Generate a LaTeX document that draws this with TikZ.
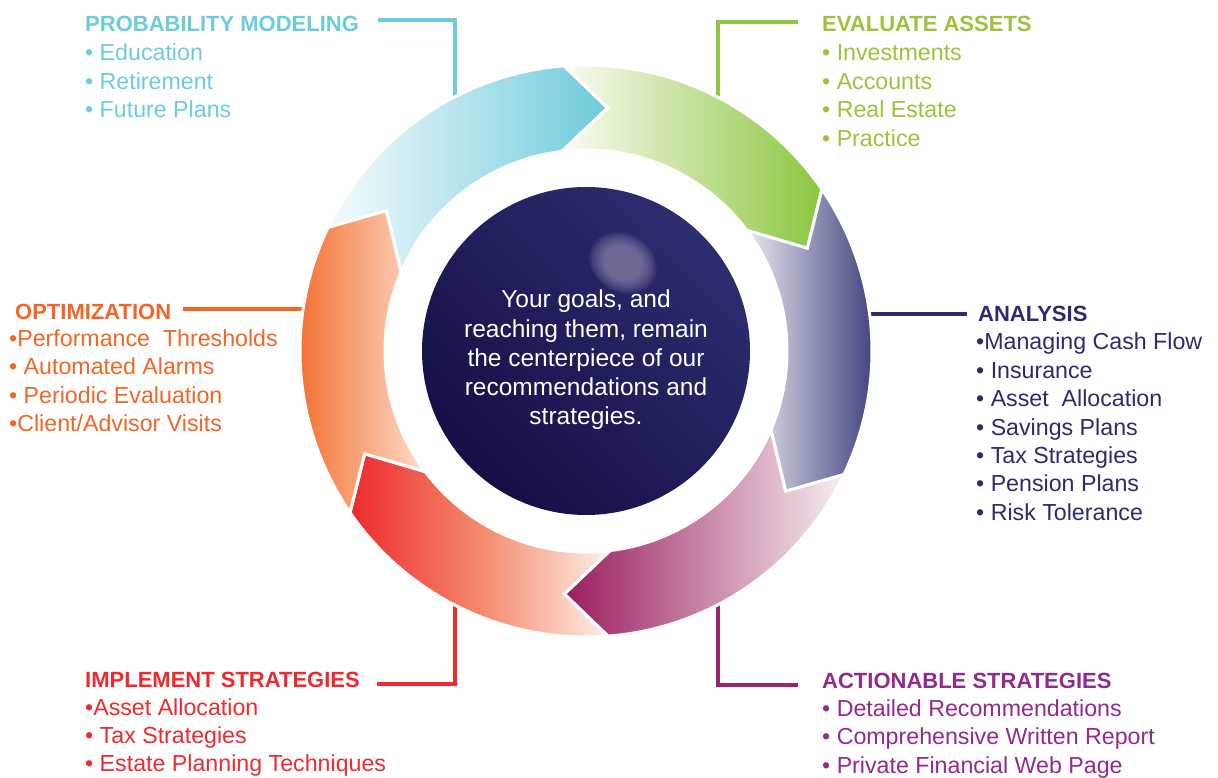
\documentclass[tikz,border=0pt]{standalone}
\usepackage{fontspec}
\setmainfont{Liberation Sans}
\usetikzlibrary{calc}

% palette
\definecolor{pmC}{HTML}{6CCBDD}
\definecolor{eaC}{HTML}{9CC23C}
\definecolor{eaL}{HTML}{8DC63F}
\definecolor{anC}{HTML}{2B2C6B}
\definecolor{asC}{HTML}{93298E}
\definecolor{asL}{HTML}{9A2467}
\definecolor{isC}{HTML}{EE2A2E}
\definecolor{opC}{HTML}{F26524}
% ring gradients
\definecolor{blueD}{HTML}{6ECBDC}
\definecolor{blueP}{HTML}{F6FBFC}
\definecolor{greenD}{HTML}{8CC63F}
\definecolor{greenP}{HTML}{FAFCF5}
\definecolor{navyD}{HTML}{2E3171}
\definecolor{navyP}{HTML}{E8E8F0}
\definecolor{purpD}{HTML}{9B1D5E}
\definecolor{purpP}{HTML}{F6EEF1}
\definecolor{redD}{HTML}{ED2A2E}
\definecolor{redM}{HTML}{F4896C}
\definecolor{redP}{HTML}{FEF0E8}
\definecolor{orgD}{HTML}{F26522}
\definecolor{orgP}{HTML}{FDDDCA}
% centre disc
\definecolor{discD}{HTML}{140F46}
\definecolor{discL}{HTML}{2D2D70}
\definecolor{glint}{HTML}{9A90B5}

% one curved arrow of the cycle: #1 tip angle, #2 shading options
\newcommand\ringarrow[2]{%
  \path[seg, #2]
    ({#1+69.5}:286) arc[start angle={#1+69.5}, end angle={#1+9.5}, radius=286]
    -- (#1:244) -- ({#1+12}:201)
    arc[start angle={#1+12}, end angle={#1+72}, radius=201]
    -- ({#1+60}:244) -- cycle;}

\begin{document}
\begin{tikzpicture}[x=1pt,y=1pt,
  heading/.style={anchor=base west, inner sep=0pt,
    font=\fontsize{22}{26}\selectfont\bfseries},
  item/.style={anchor=base west, inner sep=0pt,
    font=\fontsize{23.2}{28}\selectfont},
  conn/.style={line width=4pt},
  seg/.style={draw=white, line width=3pt, line join=miter}]
\useasboundingbox (0,0) rectangle (1218,777);

% ---------- connector lines (behind the ring) ----------
\coordinate (pmA) at (378,757);  \coordinate (pmB) at (455,667);
\coordinate (eaA) at (798,755);  \coordinate (eaB) at (718,667);
\coordinate (anA) at (967,463);  \coordinate (anB) at (860,463);
\coordinate (asA) at (798,92);   \coordinate (asB) at (718,185);
\coordinate (isA) at (377,93.5); \coordinate (isB) at (455,185);
\coordinate (opA) at (183,467.7);\coordinate (opB) at (315,467.7);
\draw[conn, pmC] (pmA) -| (pmB);
\draw[conn, eaL] (eaA) -| (eaB);
\draw[conn, anC] (anA) -- (anB);
\draw[conn, asL] (asA) -| (asB);
\draw[conn, isC] (isA) -| (isB);
\draw[conn, opC] (opA) -- (opB);

% ---------- the cycle of six arrows ----------
\begin{scope}[shift={(586,426)}]
  \ringarrow{84.9}{left color=blueP, right color=blueD}
  \ringarrow{24.9}{left color=greenP, right color=greenD}
  \ringarrow{-35.1}{left color=navyP, right color=navyD}
  \ringarrow{-95.1}{left color=purpD, right color=purpP}
  \ringarrow{-155.1}{left color=redD, right color=redP, middle color=redM}
  \ringarrow{144.9}{left color=orgD, right color=orgP}
  % centre disc
  \shade[top color=discL, bottom color=discD, shading angle=-45]
    (0,0) circle[radius=164];
\end{scope}
% soft glint on the disc
\begin{scope}[shift={(623,514)}, rotate=-30]
  \foreach \k in {0,...,7}
    \fill[glint, opacity=0.12] (0,0) ellipse[x radius={35-2.2*\k}, y radius={29-1.8*\k}];
\end{scope}
\node[align=center, text=white, inner sep=0pt,
  font=\fontsize{24.5}{29.3}\selectfont] (core) at (586,417)
  {Your goals, and\\reaching them, remain\\the centerpiece of our\\recommendations and\\strategies.};

% ---------- PROBABILITY MODELING ----------
\node[heading, text=pmC] (pmH) at (85,745) {PROBABILITY MODELING};
\foreach \t [count=\i] in {{• Education},{• Retirement},{• Future Plans}}
  \node[item, text=pmC] (pm\i) at (85,{716-(\i-1)*28.5}) {\t};

% ---------- EVALUATE ASSETS ----------
\node[heading, text=eaC] (eaH) at (822,745) {EVALUATE ASSETS};
\foreach \t [count=\i] in {{• Investments},{• Accounts},{• Real Estate},{• Practice}}
  \node[item, text=eaC] (ea\i) at (822,{716-(\i-1)*28.5}) {\t};

% ---------- ANALYSIS ----------
\node[heading, text=anC] (anH) at (978,455.3) {ANALYSIS};
\foreach \t [count=\i] in {{•Managing Cash Flow},{• Insurance},{• Asset~~Allocation},
    {• Savings Plans},{• Tax Strategies},{• Pension Plans},{• Risk Tolerance}}
  \node[item, text=anC] (an\i) at (976,{427-(\i-1)*28.4}) {\t};

% ---------- ACTIONABLE STRATEGIES ----------
\node[heading, text=asC] (asH) at (822,89) {ACTIONABLE STRATEGIES};
\foreach \t [count=\i] in {{• Detailed Recommendations},{• Comprehensive Written Report},
    {• Private Financial Web Page}}
  \node[item, text=asC] (as\i) at (822,{60.5-(\i-1)*28.3}) {\t};

% ---------- IMPLEMENT STRATEGIES ----------
\node[heading, text=isC] (isH) at (85,89.7) {IMPLEMENT STRATEGIES};
\foreach \t [count=\i] in {{•Asset Allocation},{• Tax Strategies},{• Estate Planning Techniques}}
  \node[item, text=isC] (is\i) at (85,{62-(\i-1)*28.3}) {\t};

% ---------- OPTIMIZATION ----------
\node[heading, text=opC] (opH) at (15,457.7) {OPTIMIZATION};
\foreach \t [count=\i] in {{•Performance~~Thresholds},{• Automated Alarms},
    {• Periodic Evaluation},{•Client/Advisor Visits}}
  \node[item, text=opC] (op\i) at (9,{430.3-(\i-1)*28.3}) {\t};
\end{tikzpicture}
\end{document}
